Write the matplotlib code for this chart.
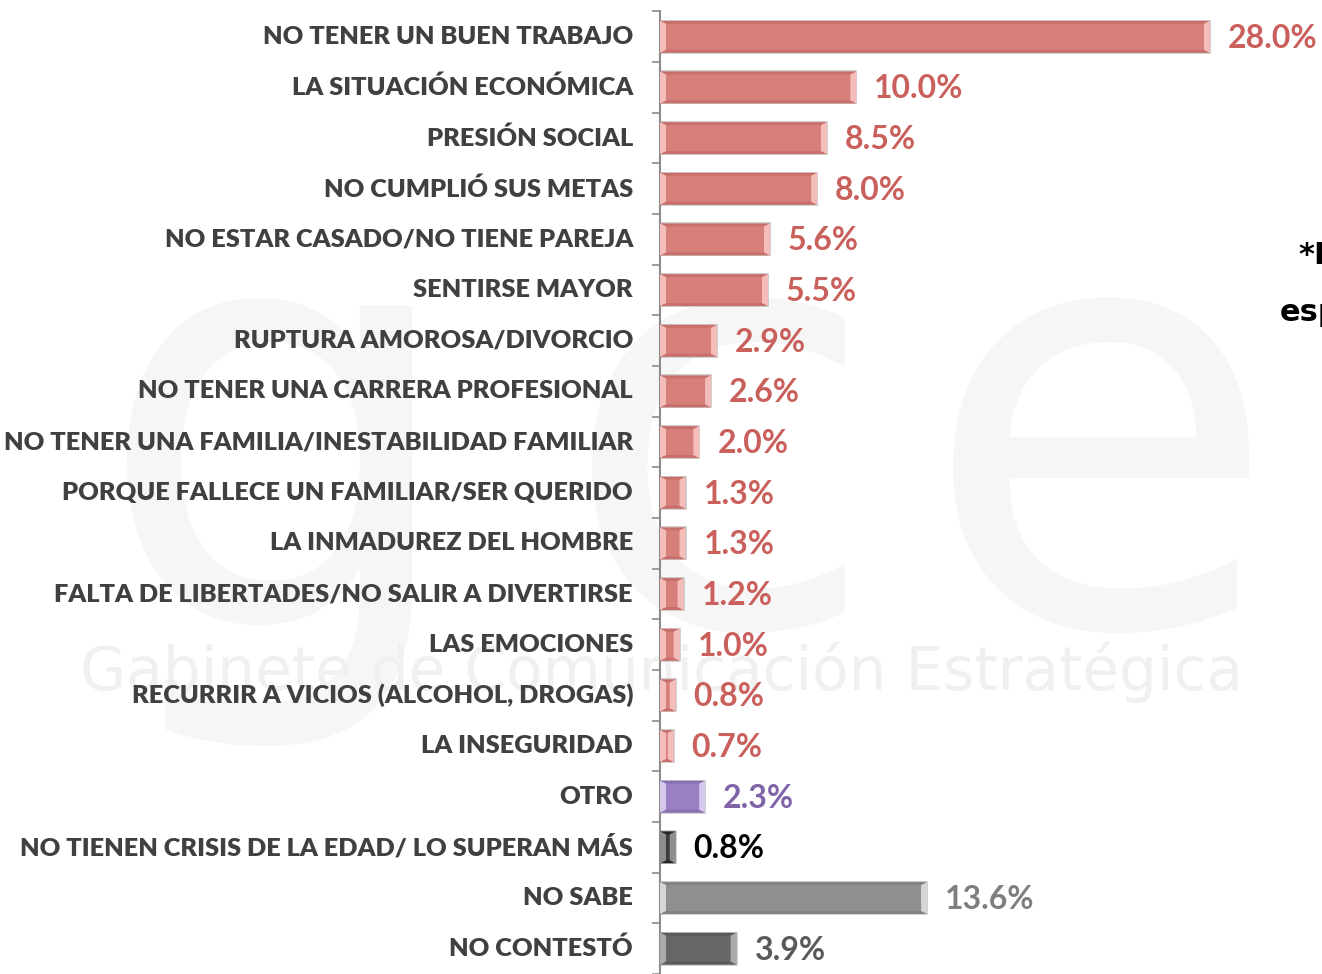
import matplotlib
matplotlib.use('Agg')
import matplotlib.pyplot as plt
import numpy as np

# data
categories = ['NO TENER UN BUEN TRABAJO', 'LA SITUACIÓN ECONÓMICA', 'PRESIÓN SOCIAL',
              'NO CUMPLIÓ SUS METAS', 'NO ESTAR CASADO/NO TIENE PAREJA', 'SENTIRSE MAYOR',
              'RUPTURA AMOROSA/DIVORCIO', 'NO TENER UNA CARRERA PROFESIONAL',
              'NO TENER UNA FAMILIA/INESTABILIDAD FAMILIAR', 'PORQUE FALLECE UN FAMILIAR/SER QUERIDO',
              'LA INMADUREZ DEL HOMBRE', 'FALTA DE LIBERTADES/NO SALIR A DIVERTIRSE',
              'LAS EMOCIONES', 'RECURRIR A VICIOS (ALCOHOL, DROGAS)', 'LA INSEGURIDAD',
              'OTRO', 'NO TIENEN CRISIS DE LA EDAD/ LO SUPERAN MÁS', 'NO SABE', 'NO CONTESTÓ']
values = [28.0, 10.0, 8.5, 8.0, 5.6, 5.5, 2.9, 2.6, 2.0, 1.3, 1.3, 1.2, 1.0, 0.8, 0.7,
          2.3, 0.8, 13.6, 3.9]
groups = ['red'] * 15 + ['purple', 'black', 'gray', 'dark']

# (fill, bevel light, bevel dark, text)
palette = {
    'red': ('#d67f7b', '#f5bdb9', '#c96f6b', '#c9605c'),
    'purple': ('#9a80c0', '#d6c9ee', '#8a6fb2', '#8064a8'),
    'black': ('#3c3c3c', '#8e8e8e', '#262626', '#000000'),
    'gray': ('#8f8f8f', '#d6d6d6', '#828282', '#7f7f7f'),
    'dark': ('#676767', '#ababab', '#5a5a5a', '#595959'),
}

fig = plt.figure(figsize=(13.22, 9.74), dpi=100)

# faint watermark behind the chart
for ch, xc in [('g', 280), ('c', 720), ('e', 1100)]:
    fig.text(xc / 1322, 1 - 625 / 974, ch, fontsize=420, color='#f6f6f6', family='DejaVu Sans',
             ha='center', va='baseline', zorder=0)
fig.text(0.5, 1 - 690 / 974, 'Gabinete de Comunicación Estratégica', fontsize=43,
         color='#f0f0f0', family='DejaVu Sans', ha='center', va='baseline', zorder=0)

ax = fig.add_axes([660 / 1322, 0, 1 - 660 / 1322, 1])
ax.set_zorder(2)
ax.patch.set_alpha(0)

px = 19.64  # pixels per percent
ax.set_xlim(0, (1322 - 660) / px)
step = 50.94
ax.set_ylim((974 - 37) / step, -37 / step)

ypos = np.arange(len(categories))
bh = 0.63
bw_x = 6 / px
bw_y = 3 / step

for y, v, g in zip(ypos, values, groups):
    fill, light, dark, tcol = palette[g]
    y0, y1 = y - bh / 2, y + bh / 2
    ax.barh(y, v, height=bh, color=fill, edgecolor='#c8c8c8', linewidth=1.2, zorder=2)
    b = min(bw_x, v / 2)
    # top / bottom bevels
    ax.fill([0, v, v - b, b], [y0, y0, y0 + bw_y, y0 + bw_y], color=dark, lw=0, zorder=3)
    ax.fill([0, v, v - b, b], [y1, y1, y1 - bw_y, y1 - bw_y], color=dark, lw=0, zorder=3)
    # left / right bevels
    ax.fill([0, b, b, 0], [y0, y0 + bw_y, y1 - bw_y, y1], color=light, lw=0, zorder=3)
    ax.fill([v, v - b, v - b, v], [y0, y0 + bw_y, y1 - bw_y, y1], color=light, lw=0, zorder=3)
    ax.text(v + 18 / px, y + 0.03, f'{v:.1f}%', color=tcol, fontsize=23, fontweight='bold',
            family='Lato', ha='left', va='center', zorder=4)

for y, c in zip(ypos, categories):
    ax.text(-27 / px, y, c, color='#404040', fontsize=18.3, fontweight=800, family='Lato',
            ha='right', va='center', zorder=4)

ax.set_yticks([])
ax.set_yticks(np.arange(-0.5, len(categories), 1), minor=True)
ax.tick_params(axis='y', which='minor', direction='out', length=6, color='#8c8c8c', width=1.2,
               labelleft=False)
ax.set_xticks([])
for s in ['top', 'right', 'bottom']:
    ax.spines[s].set_visible(False)
ax.spines['left'].set_color('#8c8c8c')
ax.spines['left'].set_linewidth(1.5)
ax.spines['left'].set_bounds(-0.5, len(categories) - 0.5)

# note at right, cut by the border
fig.text(1298 / 1322, 1 - 255 / 974, '*Respuesta', fontsize=22, fontweight='bold',
         family='DejaVu Sans', color='#000000', ha='left', va='center', zorder=3)
fig.text(1280 / 1322, 1 - 312 / 974, 'espontánea', fontsize=22, fontweight='bold',
         family='DejaVu Sans', color='#000000', ha='left', va='center', zorder=3)

fig.savefig('out.png', dpi=100)
